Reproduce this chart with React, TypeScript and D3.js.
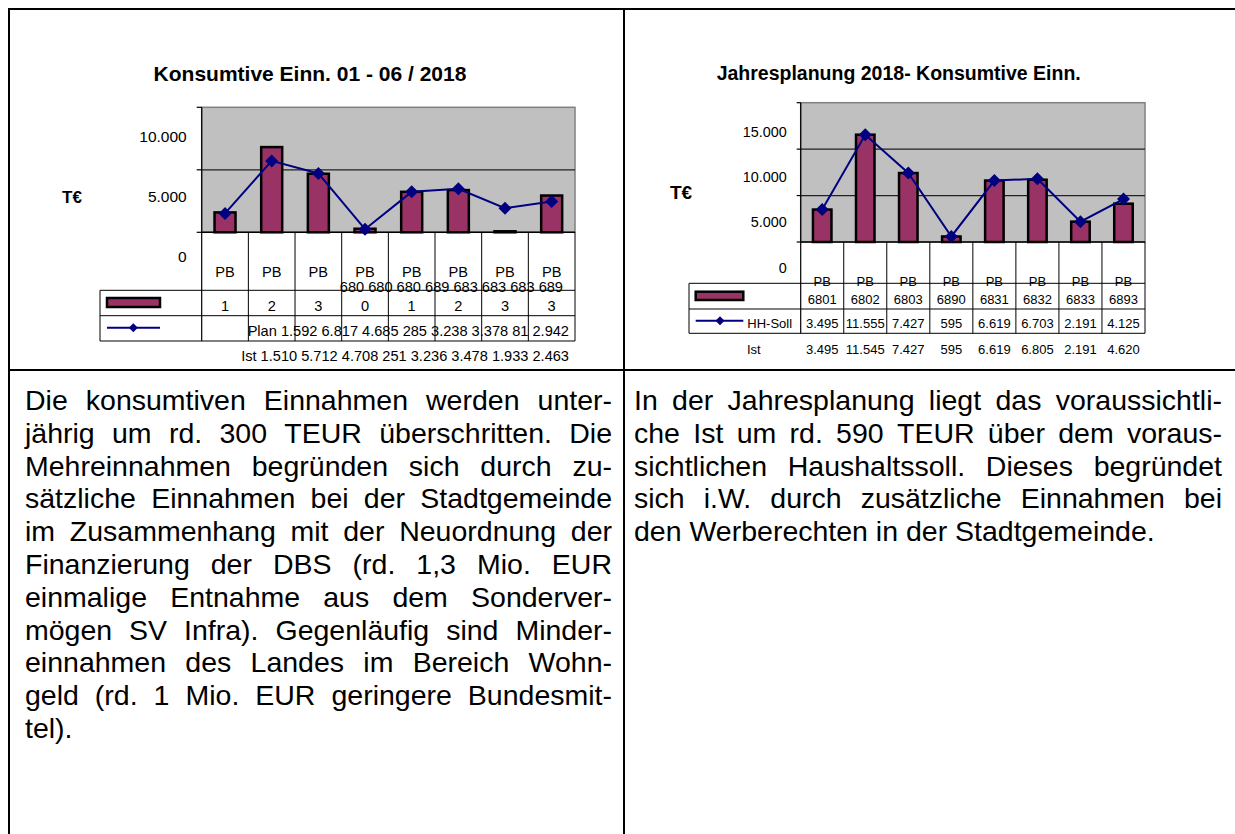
import React from 'react';
import * as d3 from 'd3';

// ---------- DATA ----------
const categories = ['PB 6801', 'PB 6802', 'PB 6803', 'PB 6890', 'PB 6831', 'PB 6832', 'PB 6833', 'PB 6893'];

// Left chart: Konsumtive Einn. 01 - 06 / 2018
const leftTitle = 'Konsumtive Einn. 01 - 06 / 2018';
const leftPlan = [1592, 6817, 4685, 285, 3238, 3378, 81, 2942];
const leftIst = [1510, 5712, 4708, 251, 3236, 3478, 1933, 2463];
const leftTicks = [0, 5000, 10000];
const leftMax = 10000;

// Right chart: Jahresplanung 2018
const rightTitle = 'Jahresplanung 2018- Konsumtive Einn.';
const rightSoll = [3495, 11555, 7427, 595, 6619, 6703, 2191, 4125];
const rightIst = [3495, 11545, 7427, 595, 6619, 6805, 2191, 4620];
const rightTicks = [0, 5000, 10000, 15000];
const rightMax = 15000;

const unitLabel = 'T€';

const leftParagraph = [
  'Die konsumtiven Einnahmen werden unter-',
  'jährig um rd. 300 TEUR überschritten. Die',
  'Mehreinnahmen begründen sich durch zu-',
  'sätzliche Einnahmen bei der Stadtgemeinde',
  'im Zusammenhang mit der Neuordnung der',
  'Finanzierung der DBS (rd. 1,3 Mio. EUR',
  'einmalige Entnahme aus dem Sonderver-',
  'mögen SV Infra). Gegenläufig sind Minder-',
  'einnahmen des Landes im Bereich Wohn-',
  'geld (rd. 1 Mio. EUR geringere Bundesmit-',
  'tel).',
];
const rightParagraph = [
  'In der Jahresplanung liegt das voraussichtli-',
  'che Ist um rd. 590 TEUR über dem voraus-',
  'sichtlichen Haushaltssoll. Dieses begründet',
  'sich i.W. durch zusätzliche Einnahmen bei',
  'den Werberechten in der Stadtgemeinde.',
];

// ---------- HELPERS ----------
const FONT = '"Liberation Sans", Arial, Helvetica, sans-serif';
const BAR = '#993366';
const LINE = '#000080';
const PLOT_BG = '#c0c0c0';

const de = d3.formatLocale({ decimal: ',', thousands: '.', grouping: [3], currency: ['', '€'] });
const fmt = de.format(',d');

let _ctx: CanvasRenderingContext2D | null = null;
function measure(text: string, size: number, weight = 'normal') {
  if (!_ctx) _ctx = document.createElement('canvas').getContext('2d');
  _ctx!.font = `${weight} ${size}px ${FONT}`;
  return _ctx!.measureText(text).width;
}

function diamond(cx: number, cy: number, r: number) {
  return `M${cx},${cy - r}L${cx + r},${cy}L${cx},${cy + r}L${cx - r},${cy}Z`;
}

function Paragraph({ lines, x0, x1, y0, lh, size }: { lines: string[]; x0: number; x1: number; y0: number; lh: number; size: number }) {
  return (
    <g fontFamily={FONT} fontSize={size} fill="#000">
      {lines.map((line, i) => {
        const words = line.split(' ');
        const widths = words.map((w) => measure(w, size));
        const space = measure(' ', size);
        const justify = i < lines.length - 1 && words.length > 1;
        const gap = justify ? (x1 - x0 - d3.sum(widths)) / (words.length - 1) : space;
        let x = x0;
        return words.map((w, j) => {
          const px = x;
          x += widths[j] + gap;
          return (
            <text key={`${i}-${j}`} x={px} y={y0 + i * lh}>
              {w}
            </text>
          );
        });
      })}
    </g>
  );
}

// ---------- LEFT CHART ----------
function LeftChart() {
  const L = 201.7, R = 575, T = 107.3, B = 232.3;
  const x = d3.scaleBand<string>().domain(categories).range([L, R]);
  const y = d3.scaleLinear().domain([0, leftMax]).range([B, T]);
  const yLab = d3.scaleLinear().domain([0, leftMax]).range([256, 136]);
  const bw = x.bandwidth() * 0.45;
  const cx = (c: string) => x(c)! + x.bandwidth() / 2;
  const line = d3.line<number>().x((_, i) => cx(categories[i])).y((d) => y(d));
  const tableL = 100, r1 = 290.3, r2 = 315.7, r3 = 341;
  const fs = 14.6;
  const mid = categories.map((c) => c.split(' ')[1].slice(0, 3)).join(' ');
  return (
    <g fontFamily={FONT}>
      <text x={310} y={80.5} fontSize={21} fontWeight="bold" textAnchor="middle">{leftTitle}</text>
      <text x={62} y={203} fontSize={17} fontWeight="bold">{unitLabel}</text>
      <rect x={L} y={T} width={R - L} height={B - T} fill={PLOT_BG} stroke="#808080" strokeWidth={1.5} />
      {leftTicks.filter((t) => t > 0 && t < leftMax).map((t) => (
        <line key={t} x1={L} x2={R} y1={y(t)} y2={y(t)} stroke="#222" strokeWidth={1.2} />
      ))}
      <line x1={L} x2={L} y1={T} y2={r3} stroke="#000" strokeWidth={1.2} />
      {leftTicks.map((t) => (
        <g key={t}>
          <line x1={L - 5} x2={L} y1={y(t)} y2={y(t)} stroke="#000" strokeWidth={1.2} />
          <text x={186.7} y={yLab(t) + 5.6} fontSize={15.5} textAnchor="end">{fmt(t)}</text>
        </g>
      ))}
      {leftPlan.map((v, i) => (
        <rect key={i} x={cx(categories[i]) - bw / 2} y={y(v)} width={bw} height={B - y(v)} fill={BAR} stroke="#000" strokeWidth={2.5} />
      ))}
      <line x1={L} x2={R} y1={B} y2={B} stroke="#000" strokeWidth={1.5} />
      <path d={line(leftIst)!} fill="none" stroke={LINE} strokeWidth={2} />
      {leftIst.map((v, i) => (
        <path key={i} d={diamond(cx(categories[i]), y(v), 6.5)} fill={LINE} />
      ))}
      {/* data table */}
      {categories.map((c) => (
        <line key={c} x1={x(c)! + x.bandwidth()} x2={x(c)! + x.bandwidth()} y1={B} y2={r3} stroke="#000" strokeWidth={1} />
      ))}
      {[r1, r2, r3].map((ry) => (
        <line key={ry} x1={tableL} x2={R} y1={ry} y2={ry} stroke="#000" strokeWidth={1} />
      ))}
      <line x1={tableL} x2={tableL} y1={r1} y2={r3} stroke="#000" strokeWidth={1} />
      {categories.map((c) => (
        <g key={c} fontSize={fs} textAnchor="middle">
          <text x={cx(c)} y={277}>{c.split(' ')[0]}</text>
          <text x={cx(c)} y={311}>{c.split(' ')[1].slice(3)}</text>
        </g>
      ))}
      <text x={563} y={292} fontSize={fs} textAnchor="end">{mid}</text>
      <rect x={107} y={298} width={53} height={9} fill={BAR} stroke="#000" strokeWidth={2.5} />
      <line x1={107} x2={160} y1={327.7} y2={327.7} stroke={LINE} strokeWidth={2} />
      <path d={diamond(133.3, 327.7, 4.5)} fill={LINE} />
      <text x={569} y={336.3} fontSize={fs} textAnchor="end">{['Plan', ...leftPlan.map(fmt)].join(' ')}</text>
      <text x={569} y={361.3} fontSize={fs} textAnchor="end">{['Ist', ...leftIst.map(fmt)].join(' ')}</text>
    </g>
  );
}

// ---------- RIGHT CHART ----------
function RightChart() {
  const L = 800.7, R = 1145, T = 102.7, B = 242;
  const x = d3.scaleBand<string>().domain(categories).range([L, R]);
  const y = d3.scaleLinear().domain([0, rightMax]).range([B, T]);
  const yLab = d3.scaleLinear().domain([0, rightMax]).range([267.3, 131.7]);
  const bw = x.bandwidth() * 0.43;
  const cx = (c: string) => x(c)! + x.bandwidth() / 2;
  const line = d3.line<number>().x((_, i) => cx(categories[i])).y((d) => y(d));
  const tableL = 689, r1 = 283.3, r2 = 309, r3 = 333.3;
  const fs = 13;
  return (
    <g fontFamily={FONT}>
      <text x={898.7} y={80.3} fontSize={19.5} fontWeight="bold" textAnchor="middle">{rightTitle}</text>
      <text x={670} y={198.5} fontSize={19} fontWeight="bold">{unitLabel}</text>
      <rect x={L} y={T} width={R - L} height={B - T} fill={PLOT_BG} stroke="#808080" strokeWidth={1.5} />
      {rightTicks.filter((t) => t > 0 && t < rightMax).map((t) => (
        <line key={t} x1={L} x2={R} y1={y(t)} y2={y(t)} stroke="#222" strokeWidth={1.2} />
      ))}
      <line x1={L} x2={L} y1={T} y2={r3} stroke="#000" strokeWidth={1.2} />
      {rightTicks.map((t) => (
        <g key={t}>
          <line x1={L - 4} x2={L} y1={y(t)} y2={y(t)} stroke="#000" strokeWidth={1.2} />
          <text x={786.7} y={yLab(t) + 5.2} fontSize={14.4} textAnchor="end">{fmt(t)}</text>
        </g>
      ))}
      {rightSoll.map((v, i) => (
        <rect key={i} x={cx(categories[i]) - bw / 2} y={y(v)} width={bw} height={B - y(v)} fill={BAR} stroke="#000" strokeWidth={2.5} />
      ))}
      <line x1={L} x2={R} y1={B} y2={B} stroke="#000" strokeWidth={1.5} />
      <path d={line(rightIst)!} fill="none" stroke={LINE} strokeWidth={2} />
      {rightIst.map((v, i) => (
        <path key={i} d={diamond(cx(categories[i]), y(v), 6.5)} fill={LINE} />
      ))}
      {categories.map((c) => (
        <line key={c} x1={x(c)! + x.bandwidth()} x2={x(c)! + x.bandwidth()} y1={B} y2={r3} stroke="#000" strokeWidth={1} />
      ))}
      {[r1, r2, r3].map((ry) => (
        <line key={ry} x1={tableL} x2={R} y1={ry} y2={ry} stroke="#000" strokeWidth={1} />
      ))}
      <line x1={tableL} x2={tableL} y1={r1} y2={r3} stroke="#000" strokeWidth={1} />
      {categories.map((c, i) => (
        <g key={c} fontSize={fs} textAnchor="middle">
          <text x={cx(c)} y={286.4}>{c.split(' ')[0]}</text>
          <text x={cx(c)} y={304}>{c.split(' ')[1]}</text>
          <text x={cx(c)} y={327.5}>{fmt(rightSoll[i])}</text>
          <text x={cx(c)} y={353.7}>{fmt(rightIst[i])}</text>
        </g>
      ))}
      <rect x={695.7} y={291.7} width={47.6} height={8.3} fill={BAR} stroke="#000" strokeWidth={2.5} />
      <line x1={695.7} x2={743.3} y1={320.7} y2={320.7} stroke={LINE} strokeWidth={2} />
      <path d={diamond(720, 320.7, 4.5)} fill={LINE} />
      <text x={747.3} y={328} fontSize={fs}>HH-Soll</text>
      <text x={747} y={353.7} fontSize={fs}>Ist</text>
    </g>
  );
}

export default function App() {
  return (
    <svg width={1235} height={834} style={{ position: 'absolute', left: 0, top: 0, background: '#fff' }}>
      <rect width={1235} height={834} fill="#fff" />
      {/* page table frame */}
      <line x1={8} x2={1235} y1={9} y2={9} stroke="#000" strokeWidth={2} />
      <line x1={9} x2={9} y1={8} y2={834} stroke="#000" strokeWidth={2} />
      <line x1={624} x2={624} y1={8} y2={834} stroke="#000" strokeWidth={2} />
      <line x1={8} x2={1235} y1={370} y2={370} stroke="#000" strokeWidth={2} />
      <LeftChart />
      <RightChart />
      <Paragraph lines={leftParagraph} x0={25} x1={612} y0={410} lh={32.8} size={28.5} />
      <Paragraph lines={rightParagraph} x0={634} x1={1222} y0={410} lh={32.8} size={28.5} />
    </svg>
  );
}
